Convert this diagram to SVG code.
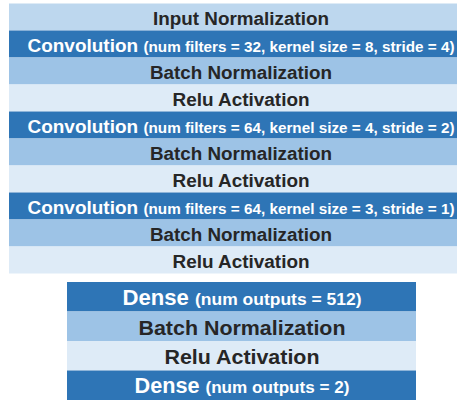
<svg xmlns="http://www.w3.org/2000/svg" width="462" height="401" viewBox="0 0 462 401">
  <style>
    .t { font-family: "Liberation Sans", Arial, sans-serif; font-weight: bold; text-anchor: middle; }
    .dark { fill: #262626; }
    .light { fill: #ffffff; }
    .inorm { fill: #bdd7ee; }
    .conv { fill: #2e75b6; }
    .bn { fill: #9dc3e6; }
    .relu { fill: #deebf7; }
    .sm { font-size: 15.3px; }
  </style>
  <rect width="462" height="401" fill="#ffffff"/>

  <!-- convolutional stack -->
  <g id="input-norm">
    <rect class="inorm" x="9" y="3.5" width="448" height="27"/>
    <text class="t dark" x="241" y="25" font-size="17.5" textLength="176" lengthAdjust="spacingAndGlyphs">Input Normalization</text>
  </g>
  <g id="conv1">
    <rect class="conv" x="9" y="30.5" width="448" height="27"/>
    <text class="t light" x="241" y="52" font-size="19" textLength="427" lengthAdjust="spacingAndGlyphs">Convolution <tspan class="sm">(num filters = 32, kernel size = 8, stride = 4)</tspan></text>
  </g>
  <g id="bn1">
    <rect class="bn" x="9" y="57.5" width="448" height="27"/>
    <text class="t dark" x="241" y="79" font-size="17.5" textLength="182" lengthAdjust="spacingAndGlyphs">Batch Normalization</text>
  </g>
  <g id="relu1">
    <rect class="relu" x="9" y="84.5" width="448" height="27"/>
    <text class="t dark" x="241" y="106" font-size="17.5" textLength="137" lengthAdjust="spacingAndGlyphs">Relu Activation</text>
  </g>
  <g id="conv2">
    <rect class="conv" x="9" y="111.5" width="448" height="27"/>
    <text class="t light" x="241" y="133" font-size="19" textLength="427" lengthAdjust="spacingAndGlyphs">Convolution <tspan class="sm">(num filters = 64, kernel size = 4, stride = 2)</tspan></text>
  </g>
  <g id="bn2">
    <rect class="bn" x="9" y="138.5" width="448" height="27"/>
    <text class="t dark" x="241" y="160" font-size="17.5" textLength="182" lengthAdjust="spacingAndGlyphs">Batch Normalization</text>
  </g>
  <g id="relu2">
    <rect class="relu" x="9" y="165.5" width="448" height="27"/>
    <text class="t dark" x="241" y="187" font-size="17.5" textLength="137" lengthAdjust="spacingAndGlyphs">Relu Activation</text>
  </g>
  <g id="conv3">
    <rect class="conv" x="9" y="192.5" width="448" height="27"/>
    <text class="t light" x="241" y="214" font-size="19" textLength="427" lengthAdjust="spacingAndGlyphs">Convolution <tspan class="sm">(num filters = 64, kernel size = 3, stride = 1)</tspan></text>
  </g>
  <g id="bn3">
    <rect class="bn" x="9" y="219.5" width="448" height="27"/>
    <text class="t dark" x="241" y="241" font-size="17.5" textLength="182" lengthAdjust="spacingAndGlyphs">Batch Normalization</text>
  </g>
  <g id="relu3">
    <rect class="relu" x="9" y="246.5" width="448" height="27"/>
    <text class="t dark" x="241" y="268" font-size="17.5" textLength="137" lengthAdjust="spacingAndGlyphs">Relu Activation</text>
  </g>

  <!-- dense head -->
  <g id="dense1">
    <rect class="conv" x="67" y="282" width="349" height="29.5"/>
    <text class="t light" x="242" y="305" font-size="21.5" textLength="239" lengthAdjust="spacingAndGlyphs">Dense <tspan font-size="17">(num outputs = 512)</tspan></text>
  </g>
  <g id="bn4">
    <rect class="bn" x="67" y="311.5" width="349" height="29.5"/>
    <text class="t dark" x="242" y="335" font-size="21" textLength="207" lengthAdjust="spacingAndGlyphs">Batch Normalization</text>
  </g>
  <g id="relu4">
    <rect class="relu" x="67" y="341" width="349" height="29.5"/>
    <text class="t dark" x="242" y="364" font-size="21" textLength="155" lengthAdjust="spacingAndGlyphs">Relu Activation</text>
  </g>
  <g id="dense2">
    <rect class="conv" x="67" y="370.5" width="349" height="29.5"/>
    <text class="t light" x="242" y="393" font-size="21.5" textLength="215" lengthAdjust="spacingAndGlyphs">Dense <tspan font-size="17">(num outputs = 2)</tspan></text>
  </g>

  <g id="connectors"/>
</svg>
